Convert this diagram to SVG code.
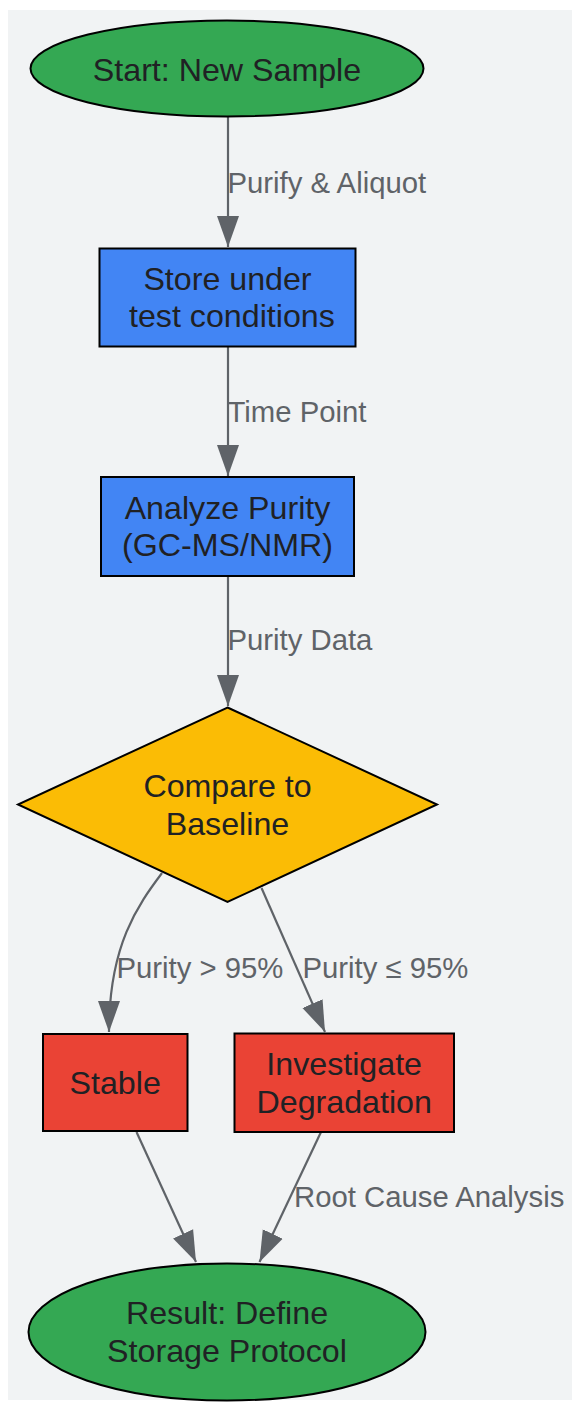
<svg xmlns="http://www.w3.org/2000/svg" width="572" height="1404" viewBox="0 0 572 1404">
<style>
.node text{font-family:"Liberation Sans",Arial,sans-serif;font-size:32.2px;fill:#202124;text-anchor:middle}
.shape{stroke:#000;stroke-width:2}
.green{fill:#34A853}.blue{fill:#4285F4}.yellow{fill:#FBBC05}.red{fill:#EA4335}
.edge{fill:none;stroke:#5F6368;stroke-width:2.2;marker-end:url(#arr)}
.elabel{font-family:"Liberation Sans",Arial,sans-serif;font-size:29.3px;fill:#5F6368}
</style>
<defs>
<marker id="arr" markerUnits="userSpaceOnUse" markerWidth="32" markerHeight="24" refX="31" refY="11" orient="auto" viewBox="0 0 32 22">
<path d="M0,0 L31,11 L0,22 Z" fill="#5F6368"/>
</marker>
</defs>
<rect x="8" y="10" width="564" height="1390" fill="#F1F3F4"/>
<g id="connectors">
<path class="edge" d="M228,117 L228,247"/>
<text class="elabel" x="227.5" y="193">Purify &amp; Aliquot</text>
<path class="edge" d="M228,347 L228,476"/>
<text class="elabel" x="227.5" y="422">Time Point</text>
<path class="edge" d="M228,576 L228,706"/>
<text class="elabel" x="227.5" y="650">Purity Data</text>
<path class="edge" d="M162,873 C138,905 109,945 109,1032"/>
<text class="elabel" x="116.5" y="978">Purity &gt; 95%</text>
<path class="edge" d="M261.5,888 L325,1032"/>
<text class="elabel" x="302.5" y="978">Purity ≤ 95%</text>
<path class="edge" d="M136.5,1132 L196,1262"/>
<path class="edge" d="M321,1132 L259.5,1262"/>
<text class="elabel" x="294" y="1206.5">Root Cause Analysis</text>
</g>
<g id="start" class="node">
<ellipse class="shape green" cx="227" cy="68.5" rx="196.5" ry="48"/>
<text x="227" y="80.5">Start: New Sample</text>
</g>
<g id="store" class="node">
<rect class="shape blue" x="99.5" y="248.5" width="256" height="98"/>
<text x="227.5" y="290">Store under</text>
<text x="231.9" y="327">test conditions</text>
</g>
<g id="analyze" class="node">
<rect class="shape blue" x="101" y="477" width="253" height="99"/>
<text x="227.5" y="518.5">Analyze Purity</text>
<text x="227.5" y="556">(GC-MS/NMR)</text>
</g>
<g id="compare" class="node">
<polygon class="shape yellow" points="227.5,707.5 437,804.5 227.5,902 18,804.5"/>
<text x="227.5" y="797">Compare to</text>
<text x="227.5" y="835">Baseline</text>
</g>
<g id="stable" class="node">
<rect class="shape red" x="43" y="1034" width="144.5" height="97"/>
<text x="115.2" y="1094">Stable</text>
</g>
<g id="investigate" class="node">
<rect class="shape red" x="234.5" y="1033.5" width="219.5" height="98.5"/>
<text x="344.2" y="1075">Investigate</text>
<text x="344.2" y="1112.5">Degradation</text>
</g>
<g id="result" class="node">
<ellipse class="shape green" cx="227" cy="1332" rx="198.5" ry="68.5"/>
<text x="227" y="1324">Result: Define</text>
<text x="227" y="1362">Storage Protocol</text>
</g>
</svg>
